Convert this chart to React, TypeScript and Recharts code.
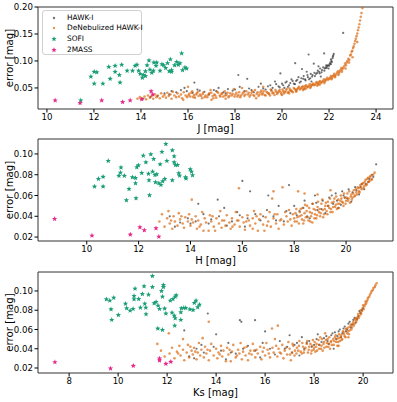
import React from 'react';
import { ScatterChart, Scatter, XAxis, YAxis, ReferenceArea, Label } from 'recharts';

type Pt = [number, number];

// ---------- J band ----------
const J_HAWKI: Pt[] = [
  [14.1,0.030],[14.4,0.033],[14.7,0.035],[15.0,0.040],[15.3,0.044],[15.5,0.042],[15.7,0.046],[15.85,0.050],[15.95,0.044],
  [16.2,0.041],[16.27,0.060],[16.4,0.047],[16.7,0.043],[16.9,0.038],[17.1,0.046],[17.3,0.050],[17.5,0.042],[17.7,0.048],[17.9,0.045],
  [18.14,0.074],[18.2,0.052],[18.4,0.044],[18.52,0.067],[18.6,0.049],[18.8,0.042],[19.0,0.052],[19.1,0.058],[19.3,0.047],
  [19.5,0.055],[19.6,0.050],[19.7,0.062],[19.85,0.053],[19.93,0.077],[20.0,0.058],[20.1,0.050],[20.2,0.062],[20.3,0.055],
  [20.4,0.066],[20.5,0.058],[20.56,0.096],[20.6,0.063],[20.7,0.070],[20.8,0.062],[20.9,0.067],[21.0,0.064],[21.05,0.080],
  [21.13,0.112],[21.1,0.070],[21.2,0.068],[21.3,0.074],[21.4,0.072],[21.5,0.078],[21.55,0.090],[21.6,0.077],[21.7,0.083],
  [21.79,0.114],[21.8,0.082],[21.85,0.088],[21.9,0.087],[21.95,0.092],[22.0,0.091],[22.05,0.097],[22.1,0.100],[22.15,0.105],
  [22.18,0.110],[22.6,0.152],[20.85,0.085],[21.35,0.095],[22.2,0.113],[21.65,0.071],[21.25,0.062],[22.08,0.094],[21.98,0.086]
];
const J_HAWKI_CORE: Pt[] = [
  [19.2,0.049],[19.4,0.053],[19.55,0.046],[19.75,0.057],[19.9,0.051],[20.05,0.055],[20.15,0.060],[20.25,0.052],[20.35,0.059],
  [20.45,0.063],[20.55,0.057],[20.65,0.065],[20.75,0.060],[20.82,0.068],[20.92,0.072],[20.98,0.066],[21.08,0.074],[21.15,0.066],
  [21.22,0.076],[21.28,0.071],[21.38,0.078],[21.45,0.076],[21.52,0.082],[21.58,0.080],[21.62,0.086],[21.68,0.079],[21.75,0.088],
  [21.82,0.086],[21.88,0.092],[21.92,0.090],[22.02,0.094],[22.08,0.103],[22.12,0.098],[22.16,0.108],[17.2,0.044],[17.6,0.040],
  [18.0,0.047],[18.7,0.046],[16.5,0.045],[15.2,0.038]
];
const J_DENEB: Pt[] = [
  [13.85,0.030],[13.95,0.033],[14.05,0.031],[14.15,0.034],[14.22,0.029],[14.3,0.036],[14.38,0.032],[14.45,0.035],[14.52,0.030],
  [14.6,0.038],[14.66,0.033],[14.72,0.036],[14.8,0.031],[14.86,0.040],[14.93,0.034],[15.0,0.037],[15.06,0.032],[15.12,0.041],
  [15.18,0.035],[15.25,0.038],[15.3,0.030],[15.36,0.043],[15.42,0.036],[15.5,0.033],[15.55,0.040],[15.62,0.034],[15.7,0.038],
  [15.75,0.031],[15.82,0.042],[15.9,0.036],[15.96,0.033],[16.05,0.039],[16.1,0.034],[16.18,0.044],[16.25,0.037],[16.3,0.032],
  [16.38,0.040],[16.45,0.035],[16.52,0.038],[16.6,0.031],[16.66,0.042],[16.75,0.036],[16.82,0.033],[16.9,0.040],[16.96,0.046],
  [17.05,0.035],[17.12,0.038],[17.2,0.032],[17.28,0.041],[17.35,0.036],[17.42,0.039],[17.5,0.034],[17.56,0.044],[17.64,0.037],
  [17.72,0.033],[17.8,0.040],[17.86,0.036],[17.95,0.048],[18.02,0.038],[18.1,0.034],[18.18,0.042],[18.25,0.036],[18.32,0.039],
  [18.4,0.035],[18.48,0.044],[18.55,0.038],[18.62,0.034],[18.7,0.041],[18.78,0.037],[18.85,0.046],[18.92,0.039],[19.0,0.035],
  [19.08,0.042],[19.15,0.038],[19.22,0.044],[19.3,0.036],[19.38,0.041],[19.45,0.039],[19.52,0.047],[19.6,0.040],[19.68,0.037],
  [19.75,0.043],[19.82,0.041],[19.9,0.046],[19.97,0.039],[20.05,0.044],[20.12,0.042],[20.2,0.048],[20.28,0.043],[20.35,0.046],
  [20.42,0.044],[20.5,0.050],[20.58,0.046],[20.65,0.048],[20.72,0.052],[20.8,0.049],[20.88,0.053],[20.95,0.050],[21.02,0.055],
  [21.1,0.052],[21.18,0.057],[21.25,0.054],[21.32,0.058],[21.4,0.056],[21.48,0.061],[21.55,0.058],[21.62,0.063],[21.7,0.061],
  [21.78,0.066],[21.85,0.064],[21.92,0.069],[22.0,0.067],[22.08,0.072],[22.15,0.071],[22.22,0.076],[22.3,0.075],[22.38,0.081],
  [22.45,0.080],[22.52,0.087],[22.6,0.087],[22.68,0.095],[22.75,0.097],[22.82,0.104],[22.9,0.110],[22.96,0.117],[23.02,0.124],
  [23.08,0.132],[23.14,0.141],[23.2,0.151],[23.26,0.162],[23.32,0.175],[23.38,0.189],[23.42,0.198],
  [20.3,0.040],[20.6,0.043],[20.9,0.046],[21.2,0.050],[21.5,0.054],[21.8,0.059],[22.1,0.066],[22.4,0.074],[22.7,0.086],
  [23.0,0.107],[23.2,0.135],[21.0,0.048],[21.6,0.056],[22.25,0.070],[22.55,0.080],[22.85,0.097],
  [16.0,0.052],[18.3,0.050],[19.2,0.052],[17.0,0.028],[15.8,0.028],[20.0,0.037],[18.9,0.031],[17.6,0.030]
];
const J_DENEB_CORE: Pt[] = [
  [16.02,0.036],[16.14,0.041],[16.22,0.033],[16.34,0.038],[16.42,0.043],[16.56,0.035],[16.63,0.039],[16.71,0.033],[16.86,0.037],
  [16.99,0.041],[17.08,0.031],[17.16,0.036],[17.24,0.043],[17.38,0.034],[17.46,0.040],[17.58,0.036],[17.68,0.041],[17.76,0.035],
  [17.9,0.039],[17.98,0.034],[18.06,0.041],[18.14,0.037],[18.22,0.033],[18.36,0.042],[18.44,0.038],[18.58,0.041],[18.66,0.037],
  [18.74,0.044],[18.82,0.035],[18.96,0.042],[19.04,0.038],[19.12,0.045],[19.18,0.040],[19.26,0.037],[19.34,0.043],[19.42,0.040],
  [19.49,0.036],[19.56,0.044],[19.64,0.041],[19.72,0.046],[19.79,0.039],[19.86,0.044],[19.94,0.042],[20.02,0.047],[20.08,0.040],
  [20.16,0.045],[20.24,0.041],[20.32,0.049],[20.39,0.045],[20.46,0.042],[20.54,0.048],[20.62,0.045],[20.69,0.050],[20.76,0.047],
  [20.84,0.051],[20.92,0.048],[20.98,0.053],[21.06,0.051],[21.14,0.054],[21.22,0.052],[21.28,0.056],[21.36,0.055],[21.44,0.059],
  [21.52,0.057],[21.58,0.061],[21.66,0.059],[21.74,0.063],[21.82,0.062],[21.88,0.066],[21.96,0.065],[22.04,0.069],[22.12,0.068],
  [22.18,0.073],[22.26,0.072],[22.34,0.078],[22.42,0.077],[22.48,0.083],[22.56,0.084],[22.64,0.090],[22.72,0.092],[22.78,0.100],
  [22.86,0.102],[22.93,0.112],[22.99,0.119],[23.05,0.127],[23.11,0.137],[23.17,0.146],[23.23,0.157],[23.29,0.168],[23.35,0.182]
];
const J_SOFI: Pt[] = [
  [11.87,0.071],[12.01,0.080],[12.12,0.079],[12.01,0.058],[12.38,0.058],[12.69,0.067],[12.63,0.089],[12.90,0.080],[12.90,0.091],
  [13.08,0.074],[13.11,0.060],[13.18,0.093],[13.41,0.082],[13.64,0.082],[13.75,0.091],[13.83,0.093],[13.90,0.082],[13.97,0.076],
  [14.06,0.069],[14.10,0.074],[14.19,0.081],[14.26,0.092],[14.34,0.101],[14.38,0.084],[14.46,0.078],[14.53,0.082],[14.55,0.097],
  [14.67,0.097],[14.81,0.082],[14.89,0.094],[14.96,0.092],[15.05,0.087],[15.20,0.081],[15.25,0.103],[15.30,0.083],[15.43,0.092],
  [15.52,0.098],[15.59,0.093],[15.66,0.096],[15.73,0.114],[15.77,0.083],[15.87,0.088],[15.94,0.086],[15.30,0.080],[14.19,0.072],
  [14.64,0.091],[15.13,0.096],[11.44,0.027]
];
const J_2MASS: Pt[] = [
  [10.35,0.027],[11.41,0.022],[12.33,0.027],[13.22,0.024],[13.54,0.027],[14.03,0.029],[14.43,0.044],[14.5,0.038]
];

// ---------- H band ----------
const H_HAWKI: Pt[] = [
  [13.2,0.040],[13.6,0.034],[13.9,0.038],[14.2,0.035],[14.5,0.042],[14.8,0.037],[15.1,0.040],[15.3,0.048],[15.6,0.035],
  [15.8,0.044],[16.0,0.074],[16.3,0.064],[16.2,0.038],[16.5,0.042],[16.7,0.036],[16.95,0.046],[17.2,0.040],[17.4,0.050],
  [17.6,0.035],[17.8,0.070],[17.85,0.043],[18.0,0.050],[18.2,0.045],[18.4,0.055],[18.5,0.040],[18.7,0.052],[18.8,0.060],
  [18.9,0.046],[19.1,0.055],[19.2,0.043],[19.35,0.058],[19.5,0.052],[19.6,0.062],[19.7,0.048],[19.85,0.064],[19.95,0.058],
  [20.1,0.066],[20.2,0.054],[20.35,0.068],[20.5,0.061],[20.6,0.071],[20.7,0.066],[20.85,0.073],[21.0,0.080],[21.16,0.090],
  [15.05,0.056],[17.0,0.060],[14.3,0.052],[13.4,0.030],[14.0,0.033],[15.4,0.031],[16.1,0.030]
];
const H_HAWKI_CORE: Pt[] = [
  [18.1,0.041],[18.35,0.048],[18.6,0.038],[18.85,0.053],[19.05,0.047],[19.3,0.050],[19.45,0.060],[19.65,0.055],[19.8,0.051],
  [19.9,0.060],[20.05,0.057],[20.25,0.063],[20.4,0.065],[20.55,0.068],[20.75,0.071],[20.9,0.076],[21.05,0.078],[16.8,0.040],
  [17.3,0.036],[17.7,0.045],[15.9,0.041],[14.7,0.033]
];
const H_DENEB: Pt[] = [
  [12.8,0.035],[12.9,0.042],[13.0,0.030],[13.1,0.038],[13.15,0.045],[13.2,0.033],[13.3,0.028],[13.35,0.040],[13.4,0.035],
  [13.5,0.031],[13.55,0.043],[13.6,0.037],[13.7,0.033],[13.75,0.029],[13.8,0.039],[13.9,0.035],[13.95,0.042],[14.0,0.031],
  [14.05,0.037],[14.1,0.034],[14.2,0.040],[14.25,0.028],[14.3,0.036],[14.4,0.032],[14.45,0.044],[14.5,0.026],[14.55,0.038],
  [14.6,0.034],[14.7,0.026],[14.75,0.041],[14.8,0.035],[14.9,0.030],[14.95,0.026],[15.0,0.038],[15.1,0.033],[15.15,0.045],
  [15.2,0.029],[15.3,0.036],[15.35,0.031],[15.4,0.041],[15.5,0.034],[15.55,0.028],[15.6,0.038],[15.7,0.032],[15.75,0.044],
  [15.8,0.036],[15.87,0.067],[15.9,0.030],[16.0,0.039],[16.05,0.034],[16.1,0.027],[16.2,0.041],[16.25,0.036],[16.3,0.031],
  [16.4,0.038],[16.45,0.045],[16.5,0.033],[16.6,0.026],[16.65,0.037],[16.7,0.042],[16.8,0.032],[16.85,0.026],[16.9,0.039],
  [17.0,0.035],[17.05,0.044],[17.1,0.030],[17.15,0.057],[17.2,0.038],[17.3,0.033],[17.35,0.042],[17.4,0.028],[17.5,0.037],
  [17.55,0.068],[17.6,0.032],[17.7,0.040],[17.75,0.035],[17.8,0.046],[17.9,0.031],[18.0,0.038],[18.05,0.043],[18.1,0.035],
  [18.2,0.040],[18.25,0.047],[18.3,0.037],[18.35,0.033],[18.4,0.043],[18.45,0.039],[18.5,0.050],[18.55,0.036],[18.6,0.044],
  [18.65,0.040],[18.7,0.034],[18.75,0.047],[18.8,0.042],[18.85,0.038],[18.9,0.049],[18.95,0.044],[19.0,0.040],[19.05,0.052],
  [19.1,0.046],[19.15,0.042],[19.2,0.050],[19.25,0.045],[19.3,0.054],[19.35,0.048],[19.4,0.044],[19.45,0.053],[19.5,0.049],
  [19.55,0.057],[19.6,0.051],[19.65,0.047],[19.7,0.056],[19.75,0.052],[19.8,0.060],[19.85,0.054],[19.9,0.050],[19.95,0.058],
  [20.0,0.055],[20.05,0.062],[20.1,0.057],[20.15,0.053],[20.2,0.061],[20.25,0.058],[20.3,0.065],[20.35,0.060],[20.4,0.063],
  [20.45,0.068],[20.5,0.064],[20.55,0.070],[20.6,0.066],[20.65,0.072],[20.7,0.069],[20.75,0.075],[20.8,0.071],[20.85,0.077],
  [20.9,0.074],[20.95,0.079],[21.0,0.076],[21.1,0.082],[18.4,0.062],[18.9,0.061],[19.4,0.065],[14.05,0.056],[15.85,0.036],
  [16.4,0.028],[18.15,0.064],[17.2,0.064]
];
const H_DENEB_CORE: Pt[] = [
  [17.95,0.042],[18.02,0.035],[18.08,0.047],[18.12,0.039],[18.18,0.033],[18.22,0.044],[18.28,0.041],[18.32,0.048],[18.38,0.036],
  [18.42,0.051],[18.48,0.045],[18.52,0.039],[18.58,0.048],[18.62,0.035],[18.68,0.043],[18.72,0.052],[18.78,0.038],[18.82,0.046],
  [18.88,0.041],[18.92,0.054],[18.98,0.047],[19.02,0.043],[19.08,0.056],[19.12,0.039],[19.18,0.047],[19.22,0.053],[19.28,0.042],
  [19.32,0.050],[19.38,0.057],[19.42,0.047],[19.48,0.044],[19.52,0.054],[19.58,0.049],[19.62,0.059],[19.68,0.052],[19.72,0.048],
  [19.78,0.055],[19.82,0.057],[19.88,0.053],[19.92,0.062],[19.98,0.052],[20.02,0.058],[20.08,0.055],[20.12,0.064],[20.18,0.059],
  [20.22,0.056],[20.28,0.062],[20.32,0.059],[20.38,0.066],[20.42,0.061],[20.48,0.067],[20.52,0.063],[20.58,0.068],[20.62,0.071],
  [20.68,0.067],[20.72,0.073],[20.78,0.070],[20.82,0.076],[20.88,0.073],[20.92,0.078],[20.98,0.075],[21.05,0.080],[15.22,0.036],
  [15.62,0.030],[16.15,0.035],[16.55,0.040],[16.95,0.031],[17.25,0.042],[17.45,0.036],[17.65,0.044],[17.85,0.037],[14.35,0.030],
  [14.85,0.040],[13.65,0.040],[13.25,0.036]
];
const H_SOFI: Pt[] = [
  [10.30,0.0686],[10.45,0.076],[10.63,0.078],[10.63,0.0686],[10.83,0.0933],[11.24,0.079],[11.30,0.082],[11.32,0.087],
  [11.45,0.079],[11.53,0.0555],[11.63,0.0663],[11.76,0.0776],[11.88,0.0718],[11.88,0.0769],[11.90,0.0574],[11.93,0.0872],
  [11.99,0.0891],[12.12,0.0817],[12.18,0.0984],[12.28,0.092],[12.38,0.081],[12.40,0.0747],[12.42,0.0603],[12.47,0.0997],
  [12.54,0.083],[12.58,0.0952],[12.63,0.0798],[12.65,0.0728],[12.70,0.0805],[12.78,0.0718],[12.83,0.090],[12.86,0.0702],
  [12.90,0.102],[12.93,0.0737],[13.01,0.076],[13.05,0.1096],[13.09,0.0933],[13.30,0.0747],[13.30,0.1035],[13.37,0.0978],
  [13.37,0.092],[13.42,0.0894],[13.50,0.0894],[13.55,0.0814],[13.58,0.0791],[13.81,0.0776],[13.83,0.0763],[13.99,0.0853],
  [14.04,0.083],[14.08,0.0795]
];
const H_2MASS: Pt[] = [
  [8.76,0.0375],[10.2,0.0214],[11.68,0.0224],[12.05,0.0295],[12.22,0.0266],[12.67,0.0285],[12.78,0.0204]
];

// ---------- Ks band ----------
const K_HAWKI: Pt[] = [
  [12.7,0.059],[12.9,0.032],[13.2,0.040],[13.5,0.036],[13.66,0.0766],[13.9,0.042],[14.2,0.038],[14.5,0.046],[14.8,0.035],
  [14.97,0.0697],[15.03,0.068],[15.3,0.043],[15.59,0.0697],[15.6,0.038],[15.9,0.046],[16.2,0.040],[16.4,0.034],[16.6,0.048],
  [16.9,0.042],[17.1,0.036],[17.3,0.046],[17.5,0.052],[17.6,0.040],[17.8,0.048],[18.0,0.044],[18.15,0.055],[18.3,0.047],
  [18.5,0.053],[18.6,0.045],[18.75,0.056],[18.9,0.050],[19.0,0.058],[19.1,0.052],[19.2,0.061],[19.3,0.058],[19.4,0.066],
  [19.5,0.062],[19.6,0.070],[19.7,0.067],[19.8,0.074],[19.9,0.077],[20.0,0.082],[14.0,0.055],[16.0,0.058],[17.0,0.054],
  [18.8,0.040],[13.1,0.030],[14.4,0.029],[15.8,0.031],[17.4,0.033]
];
const K_HAWKI_CORE: Pt[] = [
  [17.7,0.046],[17.9,0.042],[18.1,0.050],[18.2,0.044],[18.4,0.051],[18.55,0.048],[18.7,0.054],[18.85,0.057],[18.95,0.053],
  [19.05,0.060],[19.15,0.056],[19.25,0.063],[19.35,0.060],[19.45,0.068],[19.55,0.065],[19.65,0.072],[19.75,0.071],[19.85,0.079],
  [19.95,0.080],[16.8,0.040],[17.2,0.044],[15.1,0.040],[14.6,0.036],[13.4,0.044]
];
const K_DENEB: Pt[] = [
  [11.6,0.045],[11.75,0.038],[11.9,0.032],[12.07,0.056],[12.1,0.035],[12.2,0.041],[12.3,0.030],[12.4,0.037],[12.5,0.043],
  [12.55,0.033],[12.65,0.039],[12.7,0.028],[12.8,0.036],[12.85,0.044],[12.9,0.031],[13.0,0.038],[13.05,0.034],[13.1,0.041],
  [13.2,0.029],[13.25,0.036],[13.3,0.046],[13.35,0.033],[13.4,0.039],[13.5,0.031],[13.55,0.042],[13.6,0.035],[13.7,0.068],
  [13.7,0.028],[13.75,0.038],[13.8,0.045],[13.9,0.033],[14.0,0.040],[14.05,0.030],[14.1,0.036],[14.2,0.043],[14.25,0.032],
  [14.3,0.038],[14.4,0.027],[14.45,0.041],[14.5,0.034],[14.6,0.027],[14.65,0.037],[14.7,0.044],[14.8,0.031],[14.9,0.039],
  [14.95,0.035],[15.0,0.046],[15.05,0.029],[15.1,0.037],[15.2,0.033],[15.25,0.042],[15.3,0.028],[15.4,0.038],[15.45,0.034],
  [15.5,0.045],[15.6,0.031],[15.65,0.039],[15.7,0.035],[15.8,0.042],[15.85,0.029],[15.9,0.037],[16.0,0.033],[16.05,0.046],
  [16.1,0.039],[16.2,0.031],[16.28,0.061],[16.3,0.041],[16.35,0.036],[16.4,0.050],[16.5,0.032],[16.52,0.064],[16.55,0.040],
  [16.6,0.036],[16.7,0.044],[16.75,0.030],[16.8,0.038],[16.9,0.034],[16.95,0.047],[17.0,0.040],[17.1,0.036],[17.15,0.043],
  [17.2,0.033],[17.3,0.041],[17.35,0.038],[17.4,0.048],[17.5,0.035],[17.55,0.042],[17.6,0.039],[17.7,0.045],[17.75,0.036],
  [17.8,0.042],[17.9,0.038],[17.95,0.049],[18.0,0.041],[18.05,0.037],[18.1,0.045],[18.2,0.040],[18.25,0.052],[18.3,0.043],
  [18.35,0.038],[18.4,0.047],[18.5,0.042],[18.55,0.050],[18.6,0.045],[18.65,0.040],[18.7,0.048],[18.8,0.044],[18.85,0.052],
  [18.9,0.047],[18.95,0.043],[19.0,0.051],[19.05,0.048],[19.1,0.054],[19.15,0.050],[19.2,0.057],[19.25,0.053],[19.3,0.060],
  [19.35,0.056],[19.4,0.062],[19.45,0.059],[19.5,0.065],[19.55,0.062],[19.6,0.068],[19.65,0.066],[19.7,0.072],[19.75,0.070],
  [19.8,0.076],[19.85,0.074],[19.9,0.080],[19.95,0.079],[20.0,0.085],[20.05,0.084],[20.1,0.089],[20.15,0.089],[20.2,0.093],
  [20.28,0.096],[20.35,0.100],[20.42,0.103],[20.5,0.106],[20.55,0.108],[17.05,0.028],[18.45,0.056],[19.0,0.043],[19.4,0.052],
  [12.65,0.050],[13.45,0.051]
];
const K_DENEB_CORE: Pt[] = [
  [16.65,0.035],[16.85,0.041],[17.02,0.034],[17.12,0.045],[17.22,0.038],[17.28,0.035],[17.38,0.043],[17.45,0.037],[17.52,0.046],
  [17.58,0.036],[17.65,0.041],[17.72,0.048],[17.78,0.039],[17.85,0.045],[17.88,0.035],[17.92,0.043],[17.98,0.039],[18.02,0.047],
  [18.08,0.042],[18.12,0.038],[18.18,0.049],[18.22,0.044],[18.28,0.040],[18.32,0.050],[18.38,0.045],[18.42,0.041],[18.48,0.049],
  [18.52,0.046],[18.58,0.042],[18.62,0.052],[18.68,0.047],[18.72,0.044],[18.78,0.050],[18.82,0.048],[18.88,0.054],[18.92,0.050],
  [18.98,0.047],[19.02,0.055],[19.08,0.052],[19.12,0.049],[19.18,0.058],[19.22,0.055],[19.28,0.052],[19.32,0.061],[19.38,0.058],
  [19.42,0.055],[19.48,0.063],[19.52,0.060],[19.58,0.066],[19.62,0.064],[19.68,0.070],[19.72,0.068],[19.78,0.073],[19.82,0.072],
  [19.88,0.077],[19.92,0.076],[19.98,0.082],[20.02,0.081],[20.08,0.086],[20.12,0.087],[20.18,0.091],[20.25,0.094],[20.32,0.098],
  [20.4,0.101],[20.48,0.104],[14.15,0.034],[14.55,0.039],[14.85,0.033],[15.15,0.041],[15.35,0.035],[15.55,0.038],[15.95,0.041],
  [16.15,0.035],[16.45,0.043],[13.15,0.037],[13.65,0.039],[12.95,0.042],[12.45,0.035]
];
const K_SOFI: Pt[] = [
  [9.52,0.0914],[9.66,0.090],[9.82,0.093],[9.71,0.081],[9.74,0.070],[10.01,0.075],[10.30,0.0868],[10.35,0.082],[10.49,0.0796],
  [10.61,0.0814],[10.69,0.1024],[10.65,0.0948],[10.65,0.0914],[10.84,0.0917],[10.91,0.0827],[10.99,0.0969],[11.06,0.1049],
  [11.09,0.0868],[11.13,0.0827],[11.14,0.0759],[11.24,0.0962],[11.40,0.1155],[11.40,0.1041],[11.47,0.0873],[11.55,0.0886],
  [11.62,0.061],[11.63,0.0848],[11.69,0.0814],[11.77,0.100],[11.81,0.0596],[11.81,0.0941],[11.85,0.1062],[11.85,0.1041],
  [11.90,0.0817],[11.95,0.0765],[12.13,0.090],[12.20,0.0775],[12.24,0.0917],[12.29,0.0744],[12.33,0.0941],[12.33,0.0717],
  [12.37,0.0955],[12.31,0.064],[12.56,0.070],[12.56,0.0779],[12.58,0.0821],[12.68,0.0824],[12.76,0.0824],[12.93,0.081],
  [13.06,0.0803],[13.11,0.0876],[13.18,0.090],[13.25,0.0831],[13.32,0.0858]
];
const K_2MASS: Pt[] = [
  [7.42,0.0261],[9.69,0.0195],[10.62,0.0223],[11.69,0.0299],[11.69,0.0278],[11.95,0.0244],[12.15,0.0264]
];

// ---------- ticks ----------
const J_XTICKS = [10, 12, 14, 16, 18, 20, 22, 24];
const J_YTICKS = [0.05, 0.10, 0.15, 0.20];
const H_XTICKS = [10, 12, 14, 16, 18, 20];
const H_YTICKS = [0.02, 0.04, 0.06, 0.08, 0.10];
const K_XTICKS = [8, 10, 12, 14, 16, 18, 20];
const K_YTICKS = [0.02, 0.04, 0.06, 0.08, 0.10];

const SERIES_NAMES = ['HAWK-I', 'DeNebulized HAWK-I', 'SOFI', '2MASS'];
const COLORS = { hawki: '#000000', deneb: '#d95f02', sofi: '#1b9e77', twomass: '#e7298a' };
const OP_HAWKI = 0.55;
const OP_DENEB = 0.65;

const FONT = '"DejaVu Sans", sans-serif';

const toObjs = (arr: Pt[]) => arr.map(([x, y]) => ({ x, y }));

const starPoints = (cx: number, cy: number, R: number, r: number) => {
  const pts: string[] = [];
  for (let i = 0; i < 10; i++) {
    const a = -Math.PI / 2 + (i * Math.PI) / 5;
    const rad = i % 2 === 0 ? R : r;
    pts.push(`${cx + rad * Math.cos(a)},${cy + rad * Math.sin(a)}`);
  }
  return pts.join(' ');
};

const dotShape = (color: string, opacity: number, r: number) => (p: any) => (
  <circle cx={p.cx} cy={p.cy} r={r} fill={color} fillOpacity={opacity} />
);
const starShape = (color: string) => (p: any) => (
  <polygon points={starPoints(p.cx, p.cy, 2.8, 1.2)} fill={color} />
);

type PanelProps = {
  top: number; plotH: number;
  xDomain: [number, number]; yDomain: [number, number];
  xTicks: number[]; yTicks: number[]; xLabel: string;
  hawki: Pt[]; deneb: Pt[]; sofi: Pt[]; twomass: Pt[];
};

function Panel(props: PanelProps) {
  const { top, plotH, xDomain, yDomain, xTicks, yTicks, xLabel, hawki, deneb, sofi, twomass } = props;
  const height = 7 + plotH + 23 + 4;
  const tickStyle = { fontSize: 8.6, fill: '#000', fontFamily: FONT };
  const yMid = 7 + plotH / 2;
  return (
    <div style={{ position: 'absolute', left: 0, top }}>
      <ScatterChart width={397} height={height} margin={{ top: 7, right: 4, bottom: 4, left: 0 }}>
        <XAxis type="number" dataKey="x" domain={xDomain} ticks={xTicks} allowDataOverflow interval={0}
          height={23} tickSize={3.5} tickMargin={1.4} axisLine={false} tickLine={{ stroke: '#000' }} tick={tickStyle}>
          <Label value={xLabel} position="insideBottom" offset={0} style={{ fontSize: 10, fill: '#000', fontFamily: FONT }} />
        </XAxis>
        <YAxis type="number" dataKey="y" domain={yDomain} ticks={yTicks} allowDataOverflow interval={0}
          width={38} tickSize={3.5} tickMargin={1.5} axisLine={false} tickLine={{ stroke: '#000' }} tick={tickStyle}
          tickFormatter={(v: number) => v.toFixed(2)}>
          <Label content={() => (
            <text transform={`translate(9.5, ${yMid}) rotate(-90)`} textAnchor="middle" dominantBaseline="central"
              style={{ fontSize: 10.2, fill: '#000', fontFamily: FONT }}>error [mag]</text>
          )} />
        </YAxis>
        <Scatter name={SERIES_NAMES[0]} data={toObjs(hawki)} shape={dotShape(COLORS.hawki, OP_HAWKI, 1.1)} isAnimationActive={false} />
        <Scatter name={SERIES_NAMES[1]} data={toObjs(deneb)} shape={dotShape(COLORS.deneb, OP_DENEB, 1.3)} isAnimationActive={false} />
        <Scatter name={SERIES_NAMES[2]} data={toObjs(sofi)} shape={starShape(COLORS.sofi)} isAnimationActive={false} />
        <Scatter name={SERIES_NAMES[3]} data={toObjs(twomass)} shape={starShape(COLORS.twomass)} isAnimationActive={false} />
        <ReferenceArea x1={xDomain[0]} x2={xDomain[1]} y1={yDomain[0]} y2={yDomain[1]}
          fill="none" fillOpacity={0} stroke="#333" strokeWidth={1} ifOverflow="visible" />
      </ScatterChart>
    </div>
  );
}

function LegendBox() {
  const rows = [
    { name: SERIES_NAMES[0], kind: 'dot', color: COLORS.hawki, op: OP_HAWKI },
    { name: SERIES_NAMES[1], kind: 'dot', color: COLORS.deneb, op: OP_DENEB },
    { name: SERIES_NAMES[2], kind: 'star', color: COLORS.sofi, op: 1 },
    { name: SERIES_NAMES[3], kind: 'star', color: COLORS.twomass, op: 1 },
  ];
  return (
    <div style={{
      position: 'absolute', left: 42, top: 10, width: 100, height: 45, boxSizing: 'border-box',
      border: '1px solid #d0d0d0', borderRadius: 3, background: 'rgba(255,255,255,0.8)',
      fontFamily: FONT, fontSize: 7.4, color: '#000',
    }}>
      {rows.map((r, i) => (
        <div key={r.name} style={{ position: 'absolute', left: 0, top: 1.5 + i * 10.8, height: 10, display: 'flex', alignItems: 'center' }}>
          <svg width={22} height={10} style={{ display: 'block' }}>
            {r.kind === 'dot'
              ? <circle cx={11} cy={5} r={1.2} fill={r.color} fillOpacity={r.op} />
              : <polygon points={starPoints(11, 5, 2.8, 1.2)} fill={r.color} />}
          </svg>
          <span style={{ marginLeft: 2, whiteSpace: 'nowrap', lineHeight: '10px' }}>{r.name}</span>
        </div>
      ))}
    </div>
  );
}

export default function App() {
  return (
    <div style={{ position: 'absolute', left: 0, top: 0, width: 397, height: 402, background: '#fff', fontFamily: FONT }}>
      <Panel top={0} plotH={102} xDomain={[9.62, 24.72]} yDomain={[0.011, 0.2]} xTicks={J_XTICKS} yTicks={J_YTICKS}
        xLabel="J [mag]" hawki={[...J_HAWKI, ...J_HAWKI_CORE]} deneb={[...J_DENEB, ...J_DENEB_CORE]} sofi={J_SOFI} twomass={J_2MASS} />
      <Panel top={132} plotH={102} xDomain={[8.12, 21.81]} yDomain={[0.0162, 0.1144]} xTicks={H_XTICKS} yTicks={H_YTICKS}
        xLabel="H [mag]" hawki={[...H_HAWKI, ...H_HAWKI_CORE]} deneb={[...H_DENEB, ...H_DENEB_CORE]} sofi={H_SOFI} twomass={H_2MASS} />
      <Panel top={265} plotH={101} xDomain={[6.73, 21.22]} yDomain={[0.0148, 0.1197]} xTicks={K_XTICKS} yTicks={K_YTICKS}
        xLabel="Ks [mag]" hawki={[...K_HAWKI, ...K_HAWKI_CORE]} deneb={[...K_DENEB, ...K_DENEB_CORE]} sofi={K_SOFI} twomass={K_2MASS} />
      <LegendBox />
    </div>
  );
}
